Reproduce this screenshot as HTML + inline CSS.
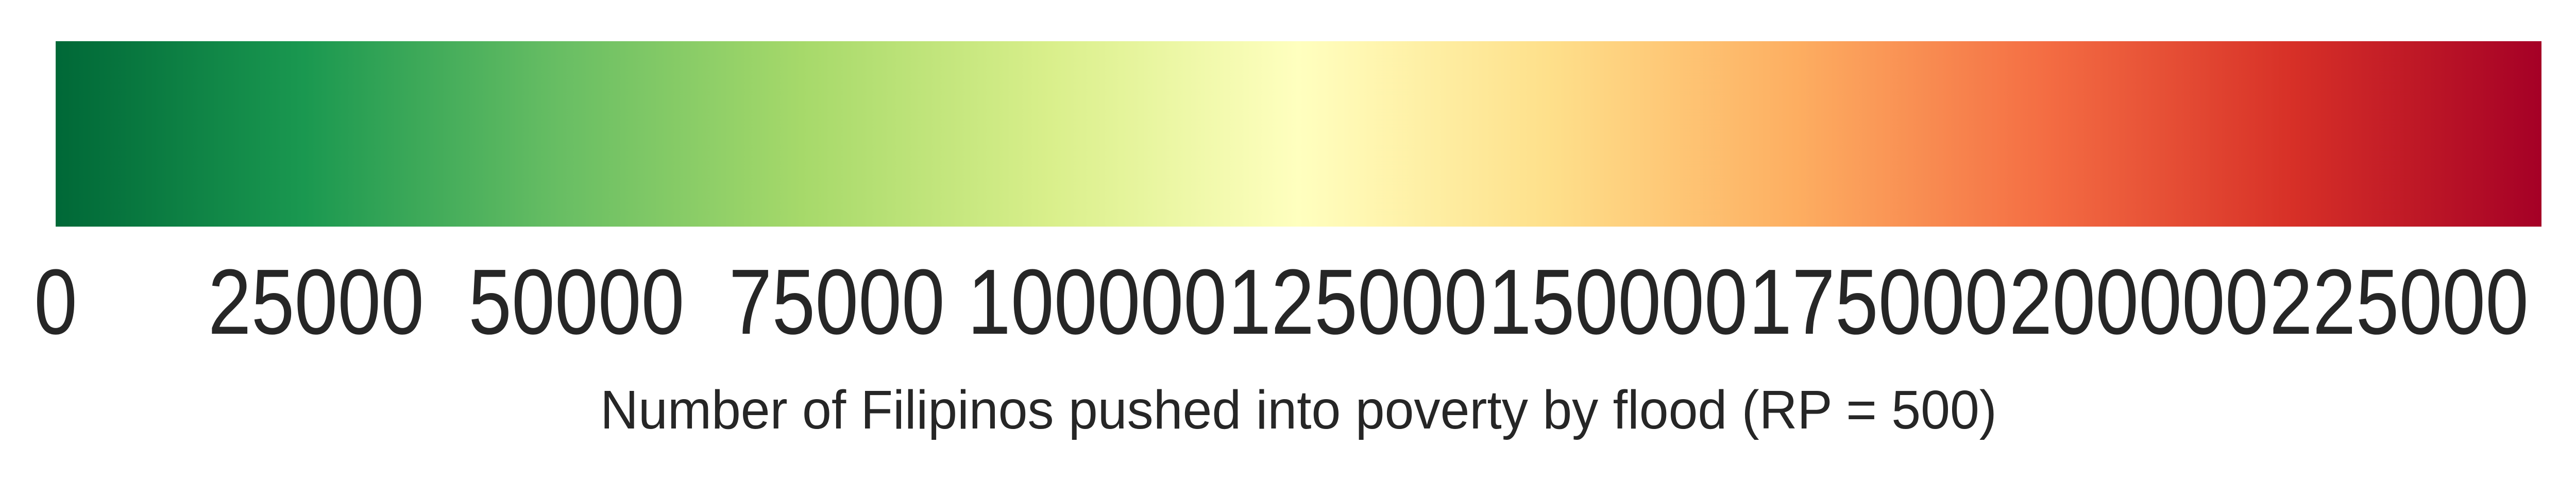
<!DOCTYPE html>
<html><head><meta charset="utf-8"><style>
html,body{margin:0;padding:0;background:#fff;width:100%;height:100%;overflow:hidden;}
svg{display:block;width:100vw;height:100vh;}
</style></head><body>
<svg id="chart" viewBox="0 0 5969 932" preserveAspectRatio="none" xmlns="http://www.w3.org/2000/svg">
<defs>
<linearGradient id="cmap" x1="0" x2="1" y1="0" y2="0">
<stop offset="0" stop-color="#006837"/><stop offset="0.1" stop-color="#1a9850"/><stop offset="0.2" stop-color="#66bd63"/><stop offset="0.3" stop-color="#a6d96a"/><stop offset="0.4" stop-color="#d9ef8b"/><stop offset="0.5" stop-color="#ffffbf"/><stop offset="0.6" stop-color="#fee08b"/><stop offset="0.7" stop-color="#fdae61"/><stop offset="0.8" stop-color="#f46d43"/><stop offset="0.9" stop-color="#d73027"/><stop offset="1" stop-color="#a50026"/>
</linearGradient>
</defs>
<rect x="129" y="80" width="5760" height="360" fill="url(#cmap)"/>
<g id="ticks"></g>
<text x="3009" y="832" text-anchor="middle" font-family="Liberation Sans, sans-serif" font-size="106" fill="#262626" textLength="3236" lengthAdjust="spacingAndGlyphs">Number of Filipinos pushed into poverty by flood (RP = 500)</text>
</svg>
<script>
const tickValues = [0, 25000, 50000, 75000, 100000, 125000, 150000, 175000, 200000, 225000];
const tickLabels = ["0","25000","50000","75000","100000","125000","150000","175000","200000","225000"];
const domain = [0, 238677];
function xScale(v){ return 129 + (v - domain[0]) / (domain[1] - domain[0]) * 5760; }
const g = document.getElementById('ticks');
tickValues.forEach((v, i) => {
  const t = document.createElementNS('http://www.w3.org/2000/svg', 'text');
  
  
  t.setAttribute('x', xScale(v));
  t.setAttribute('y', 648);
  t.setAttribute('text-anchor', 'middle');
  t.setAttribute('font-family', 'Liberation Sans, sans-serif');
  t.setAttribute('font-size', '180');
  t.setAttribute('fill', '#262626');
  t.textContent = tickLabels[i];
  g.appendChild(t);
});
</script>
</body></html>
